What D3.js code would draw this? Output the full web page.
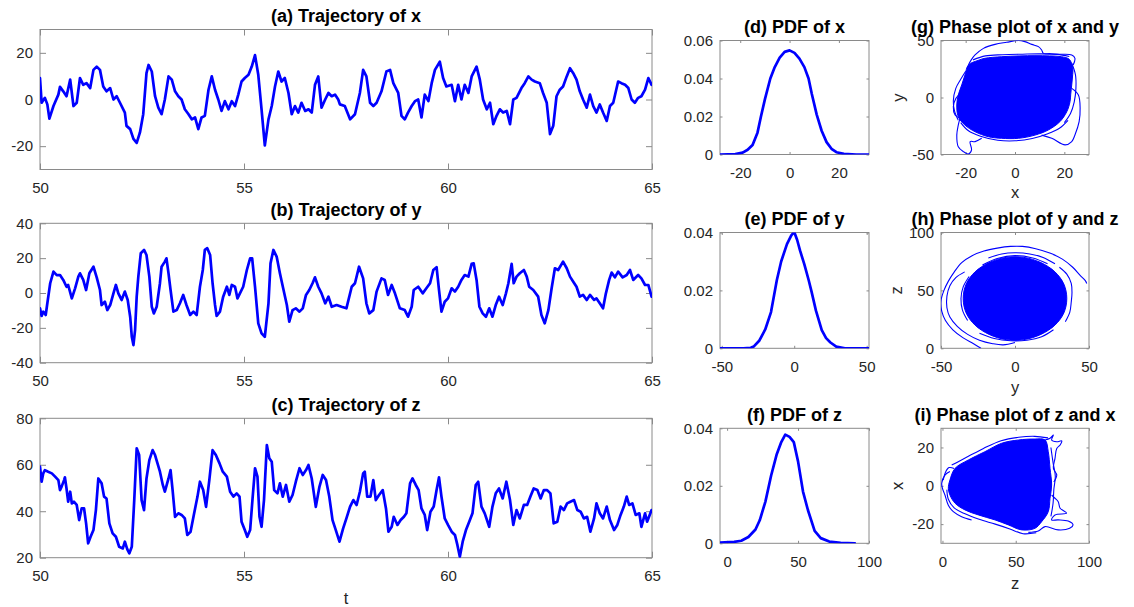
<!DOCTYPE html>
<html><head><meta charset="utf-8">
<script src="https://cdn.jsdelivr.net/npm/d3@7"></script>
<style>
body{margin:0;background:#fff;}
svg text{font-family:"Liberation Sans",Arial,Helvetica,sans-serif;}
</style></head><body>
<script>
// ---------------- DATA ----------------
// (a) trajectory of x : [t, x]
const trajX = [[50.00,9.2],[50.04,-1.4],[50.12,0.7],[50.18,-2.1],[50.23,-8.2],[50.33,-2.8],[50.45,2.1],[50.49,5.4],[50.57,3.5],[50.65,1.4],[50.74,8.5],[50.82,-2.8],[50.90,-1.4],[50.98,9.2],[51.06,6.3],[51.14,7.0],[51.23,4.9],[51.31,12.7],[51.39,14.1],[51.47,12.7],[51.55,5.6],[51.63,3.5],[51.72,4.9],[51.80,0],[51.88,1.4],[51.96,-1.4],[52.08,-5.6],[52.12,-11.3],[52.21,-12.7],[52.29,-16.9],[52.37,-18.6],[52.45,-14.1],[52.53,-6.3],[52.61,11.3],[52.66,14.8],[52.74,12.0],[52.82,1.4],[52.90,-3.5],[52.98,-6.3],[53.06,0],[53.15,9.9],[53.23,8.5],[53.31,3.5],[53.39,1.4],[53.47,0],[53.55,-4.2],[53.64,-6.3],[53.72,-8.5],[53.80,-7.7],[53.88,-12.7],[53.96,-7.7],[54.04,-7.0],[54.13,4.2],[54.21,9.9],[54.29,4.2],[54.37,0],[54.45,-4.9],[54.53,-0.7],[54.62,-4.2],[54.70,-0.7],[54.78,-2.8],[54.86,2.1],[54.94,7.7],[55.02,9.2],[55.11,10.6],[55.19,14.1],[55.27,19.0],[55.35,10.6],[55.43,-4.2],[55.51,-19.7],[55.60,-8.5],[55.68,-2.8],[55.76,5.6],[55.84,12.0],[55.92,7.7],[56.00,9.2],[56.09,2.8],[56.17,-6.3],[56.25,-2.8],[56.33,-5.6],[56.41,-1.4],[56.50,-4.9],[56.58,-4.2],[56.66,-5.6],[56.74,6.3],[56.82,9.9],[56.90,-3.5],[56.99,0],[57.07,2.8],[57.15,1.4],[57.23,2.1],[57.31,0],[57.35,-2.1],[57.47,-2.8],[57.60,-8.5],[57.72,-6.3],[57.84,2.8],[57.92,12.7],[58.00,9.9],[58.09,-1.4],[58.17,-2.8],[58.25,-1.4],[58.37,3.5],[58.49,12.0],[58.58,12.7],[58.66,7.0],[58.78,2.8],[58.86,-7.0],[58.94,-8.5],[59.02,-5.6],[59.11,-2.8],[59.19,-0.7],[59.27,0],[59.35,-7.7],[59.43,2.1],[59.52,-0.7],[59.60,7.0],[59.68,12.7],[59.80,16.2],[59.88,9.2],[59.96,5.6],[60.09,6.3],[60.17,-0.7],[60.25,6.3],[60.33,0],[60.41,6.3],[60.50,2.8],[60.58,9.9],[60.70,14.1],[60.78,8.5],[60.86,0],[60.95,-4.2],[61.03,-1.4],[61.11,-10.6],[61.19,-7.0],[61.27,-4.2],[61.35,-5.6],[61.44,-4.9],[61.52,-10.6],[61.60,0],[61.68,0.7],[61.80,4.9],[61.88,7.0],[61.97,9.9],[62.05,8.5],[62.13,7.7],[62.25,7.0],[62.33,2.8],[62.42,-1.4],[62.50,-14.8],[62.58,-11.3],[62.66,1.4],[62.74,4.2],[62.82,5.6],[62.91,9.9],[62.99,13.4],[63.07,11.3],[63.15,8.5],[63.23,3.5],[63.31,0],[63.40,-3.5],[63.48,2.1],[63.56,-2.8],[63.64,-5.6],[63.72,-2.1],[63.80,-5.6],[63.89,-9.2],[63.97,-2.8],[64.05,-1.4],[64.17,7.7],[64.25,7.0],[64.34,6.3],[64.42,4.9],[64.50,0],[64.58,-1.4],[64.66,0.7],[64.74,1.4],[64.83,4.2],[64.91,9.2],[64.99,6.3]];

// (b) trajectory of y : [t, y]
const trajY = [[50.00,-8.8],[50.04,-13.2],[50.08,-10.7],[50.14,-12.6],[50.18,-5.9],[50.25,5.6],[50.33,12.3],[50.41,10.3],[50.49,10.3],[50.57,7.5],[50.65,3.6],[50.69,4.6],[50.78,-3.1],[50.86,2.7],[50.94,9.4],[50.98,11.3],[51.06,7.5],[51.13,1.7],[51.21,11.3],[51.31,15.1],[51.39,9.0],[51.47,1.7],[51.51,-6.9],[51.59,-5.0],[51.65,-9.8],[51.72,-6.9],[51.80,-0.2],[51.86,4.6],[51.92,-0.2],[52.00,-4.0],[52.08,0.8],[52.15,-4.0],[52.21,-13.6],[52.25,-25.1],[52.29,-29.9],[52.33,-21.3],[52.37,-2.1],[52.41,9.4],[52.47,22.8],[52.55,24.7],[52.61,21.8],[52.68,9.4],[52.74,-7.9],[52.79,-11.7],[52.86,-7.9],[52.94,5.6],[52.98,15.1],[53.06,18.0],[53.10,19.9],[53.15,11.3],[53.20,1.7],[53.27,-10.7],[53.35,-9.8],[53.43,-5.9],[53.51,-1.1],[53.59,-6.9],[53.68,-12.6],[53.76,-10.7],[53.84,-12.6],[53.92,3.6],[53.99,13.2],[54.04,24.7],[54.10,25.7],[54.17,21.8],[54.23,5.6],[54.29,-6.9],[54.33,-13.2],[54.41,-10.7],[54.49,-2.1],[54.58,3.6],[54.64,-1.1],[54.70,4.6],[54.78,3.6],[54.84,-3.1],[54.90,-0.2],[54.98,3.6],[55.07,13.2],[55.15,19.9],[55.20,19.9],[55.27,3.6],[55.35,-17.4],[55.43,-23.2],[55.51,-25.1],[55.60,-5.9],[55.65,17.0],[55.72,24.7],[55.80,20.9],[55.88,11.3],[55.96,2.7],[56.05,-6.9],[56.11,-16.5],[56.19,-9.8],[56.27,-8.8],[56.36,-10.7],[56.44,-8.8],[56.52,-1.1],[56.60,1.7],[56.68,5.6],[56.74,9.0],[56.82,3.6],[56.90,-0.2],[56.99,-5.9],[57.07,-2.1],[57.15,-7.9],[57.27,-6.9],[57.39,-7.9],[57.51,-8.8],[57.64,3.6],[57.72,5.6],[57.82,15.1],[57.92,8.4],[58.00,-5.9],[58.07,-11.7],[58.17,-9.8],[58.25,0.8],[58.37,8.4],[58.45,7.5],[58.53,-1.1],[58.62,4.6],[58.70,-0.2],[58.82,-8.8],[58.94,-9.8],[59.02,-13.6],[59.11,-7.9],[59.16,1.7],[59.27,3.6],[59.38,-0.2],[59.47,2.7],[59.56,5.6],[59.64,13.2],[59.72,14.8],[59.78,1.7],[59.84,-10.7],[59.92,-5.0],[60.00,-3.1],[60.09,2.7],[60.17,0.8],[60.25,3.6],[60.33,7.5],[60.41,10.3],[60.50,9.4],[60.58,16.7],[60.63,17.0],[60.70,7.5],[60.77,-7.9],[60.85,-11.7],[60.93,-13.6],[61.01,-8.8],[61.09,-13.6],[61.17,-6.9],[61.25,-2.1],[61.34,-6.9],[61.42,-0.2],[61.48,5.6],[61.56,16.7],[61.61,5.6],[61.68,9.4],[61.76,11.3],[61.86,13.2],[61.93,9.4],[61.99,3.6],[62.09,1.7],[62.21,-2.1],[62.29,-12.6],[62.37,-17.4],[62.46,-9.8],[62.54,2.7],[62.62,14.2],[62.70,13.2],[62.82,18.0],[62.91,14.2],[62.99,9.4],[63.07,6.5],[63.15,3.6],[63.23,-2.1],[63.31,-1.1],[63.40,-4.0],[63.48,-1.1],[63.58,-4.0],[63.64,-3.1],[63.72,-5.9],[63.80,-8.8],[63.87,-0.2],[63.95,7.5],[64.01,11.7],[64.09,9.0],[64.17,12.3],[64.28,9.0],[64.38,10.3],[64.46,13.2],[64.54,7.5],[64.66,10.3],[64.74,8.4],[64.83,4.6],[64.91,4.6],[64.99,-2.1]];

// (c) trajectory of z : [t, z]
const trajZ = [[50.00,59.2],[50.04,52.7],[50.08,56.3],[50.12,57.7],[50.20,57.0],[50.29,56.3],[50.37,54.9],[50.45,53.4],[50.49,49.1],[50.53,50.6],[50.59,53.4],[50.61,54.6],[50.65,49.8],[50.69,44.1],[50.74,48.4],[50.78,43.4],[50.83,44.1],[50.90,42.7],[50.96,36.2],[51.02,41.2],[51.08,41.2],[51.13,34.8],[51.18,26.2],[51.24,29.0],[51.31,31.9],[51.37,40.5],[51.43,54.1],[51.51,52.0],[51.57,46.3],[51.63,45.5],[51.70,34.8],[51.78,30.5],[51.86,29.0],[51.94,24.7],[52.03,24.0],[52.08,26.9],[52.14,23.6],[52.19,21.9],[52.25,24.7],[52.31,44.8],[52.37,67.1],[52.43,64.2],[52.49,44.8],[52.55,40.5],[52.61,54.1],[52.68,62.0],[52.76,66.3],[52.82,64.2],[52.88,60.6],[52.94,57.0],[53.01,51.3],[53.06,48.4],[53.15,54.1],[53.20,57.7],[53.25,49.1],[53.31,37.6],[53.39,39.1],[53.47,38.4],[53.55,36.9],[53.61,29.8],[53.69,31.2],[53.77,38.4],[53.86,46.3],[53.92,52.7],[54.00,49.1],[54.07,41.9],[54.15,53.4],[54.23,66.3],[54.31,64.2],[54.40,60.6],[54.48,57.0],[54.58,54.9],[54.66,48.4],[54.74,46.3],[54.82,47.7],[54.89,46.3],[54.94,35.5],[55.02,31.9],[55.08,29.0],[55.15,31.9],[55.21,45.5],[55.27,58.5],[55.33,54.9],[55.38,37.6],[55.43,33.3],[55.49,44.8],[55.56,68.5],[55.62,62.8],[55.68,61.3],[55.74,49.1],[55.82,47.7],[55.88,52.0],[55.95,46.3],[56.03,51.3],[56.11,44.1],[56.19,47.0],[56.27,52.7],[56.36,58.5],[56.44,55.6],[56.52,57.7],[56.58,59.9],[56.66,54.1],[56.76,41.9],[56.85,50.6],[56.93,55.6],[57.01,53.4],[57.09,46.3],[57.17,36.2],[57.25,31.9],[57.34,26.9],[57.43,32.6],[57.51,36.9],[57.60,42.0],[57.68,44.8],[57.76,42.7],[57.84,48.4],[57.92,56.3],[57.96,57.0],[58.02,46.3],[58.10,46.3],[58.17,53.4],[58.23,44.8],[58.31,47.0],[58.40,49.1],[58.48,41.2],[58.54,31.2],[58.62,33.3],[58.67,37.6],[58.76,34.1],[58.84,36.2],[58.92,37.6],[58.98,39.1],[59.07,52.0],[59.13,54.1],[59.21,51.3],[59.28,49.1],[59.35,41.2],[59.43,38.4],[59.49,31.9],[59.57,39.8],[59.65,42.0],[59.72,49.1],[59.78,54.6],[59.84,46.3],[59.92,36.9],[60.00,34.1],[60.09,31.2],[60.17,29.8],[60.23,25.5],[60.29,20.4],[60.36,26.9],[60.44,31.9],[60.52,35.5],[60.60,39.1],[60.68,51.3],[60.74,52.7],[60.82,42.0],[60.90,39.1],[61.01,33.3],[61.09,42.0],[61.17,47.7],[61.25,49.8],[61.34,45.5],[61.43,52.7],[61.52,44.8],[61.60,34.1],[61.68,40.5],[61.76,36.9],[61.86,42.7],[61.94,42.7],[62.02,46.3],[62.10,49.8],[62.19,49.1],[62.27,45.5],[62.35,49.1],[62.43,49.1],[62.51,47.7],[62.59,34.8],[62.68,35.5],[62.76,42.0],[62.84,40.5],[62.92,43.4],[63.00,44.1],[63.09,44.8],[63.17,40.5],[63.25,39.8],[63.33,36.9],[63.41,37.6],[63.49,31.2],[63.58,36.9],[63.64,43.4],[63.72,39.1],[63.80,36.9],[63.89,42.0],[63.97,36.2],[64.07,31.9],[64.15,34.1],[64.23,38.4],[64.31,42.0],[64.38,46.3],[64.44,42.7],[64.52,43.4],[64.60,38.4],[64.69,39.1],[64.74,33.3],[64.83,39.1],[64.88,35.5],[64.99,40.5]];

// (d)(e)(f) probability density functions : [value, density]
const pdfX = [[-28.2,0],[-22,0.0002],[-19,0.001],[-17,0.0025],[-15,0.005],[-13,0.0115],[-11.6,0.02],[-10,0.029],[-7.8,0.04],[-6,0.046],[-4,0.051],[-2,0.054],[0,0.0548],[2,0.0535],[4,0.0505],[6,0.046],[7.7,0.04],[9,0.032],[11,0.021],[13,0.0125],[15,0.0065],[17,0.003],[19,0.0012],[22,0.0003],[27,0],[32.2,0]];
const pdfY = [[-51.2,0],[-35,0],[-30,0.0002],[-28,0.0006],[-24,0.0027],[-20,0.0065],[-16,0.0125],[-12,0.0235],[-9,0.030],[-5,0.036],[-2,0.039],[0,0.0402],[2,0.0375],[4,0.0338],[7,0.029],[10,0.0235],[12,0.0195],[15,0.013],[19,0.0063],[22,0.0035],[25,0.002],[29,0.0006],[35,0],[51.6,0]];
const pdfZ = [[-5,0.0002],[5,0.0005],[10,0.0009],[15,0.0022],[20,0.0048],[23,0.008],[27,0.0145],[31,0.0235],[35,0.031],[38,0.035],[41,0.0378],[44,0.037],[47,0.0352],[50,0.0285],[53.5,0.018],[57,0.0115],[61.7,0.0043],[66,0.0018],[72,0.0006],[80,0.0002],[90,0]];

// (g) phase plot x–y : dense core outline, edge strands and outer loops
const phaseXYcore = [[-18.9,28.5],[-15,32.5],[-12.2,34.4],[-5.4,35.8],[2,36.5],[8.1,36.7],[14,36.5],[18.9,35.8],[22,33.5],[23.4,26],[23.3,18],[23,11],[22.6,3],[22.3,-3.7],[21,-12.4],[18.2,-21.2],[13.5,-28.5],[8.1,-33],[1.4,-35.8],[-5.4,-35.8],[-10.8,-34.4],[-16.2,-30],[-20.3,-24.2],[-23,-16.8],[-23.6,-6.6],[-23,2.2],[-21.6,11],[-20.3,19.7]];
const phaseXYloops = [
  [[-18.9,28.5],[-17.8,32.8],[-16.2,37.3],[-12.8,43.1],[-8.1,46.6],[-3.4,48.4],[1.4,50],[4,49],[6.8,46.6],[9.5,44.6],[10.8,41.7],[11.5,38.7],[14,38.5],[18.9,38],[23,37.3],[24.3,34.4],[23.6,28.5]],
  [[23,8],[25.7,2.2],[26.4,-9.5],[26,-21.2],[24.3,-32.9],[23,-38.7],[20.3,-41.6],[14.9,-35.8],[10.8,-33]],
  [[-22.3,-18.3],[-23,-24.2],[-23.6,-33],[-23,-43.2],[-20.9,-47.5],[-18.9,-49.5],[-17.6,-46],[-18.2,-38.7],[-16.2,-38.7],[-13.5,-35.8]],
  [[-21.6,5],[-24,-1],[-25,-8],[-24.3,-15.4],[-22.3,-18.3]],
  [[-17,33],[-12,36.5],[-5,37.5],[3,38],[10,38.3],[17,37.8],[22,36]],
  [[-22,-22],[-19,-29],[-14,-34],[-7,-37.5],[0,-38],[7,-36],[13,-32],[18,-27],[21.5,-20]],
  [[-20,23],[-22,16],[-24,8],[-25,-3],[-24.5,-12],[-23,-20]],
  [[23,30],[24.5,20],[24.7,8],[24,-4],[22.5,-14],[20,-22]]
];
// (h) phase plot y–z
const phaseYZcore = [[35,43],[33,55.5],[27,66],[17.5,74],[6,78.5],[-6,78.5],[-17.5,74],[-27,66],[-33,55.5],[-35,43],[-33,30.5],[-27,20],[-17.5,12],[-6,7.5],[6,7.5],[17.5,12],[27,20],[33,30.5]];
const phaseYZloops = [
  [[48.5,56],[47.5,58.5],[44,63],[39,70],[32,77],[24,82],[14,86],[5,88],[-3,88],[-12,86.5],[-21,84],[-29,80],[-36,74],[-41,66],[-45,58],[-48,50],[-50,41],[-49.5,32],[-47,24],[-42,16],[-35,9],[-28,4],[-23,0]],
  [[-34,66],[-40,61],[-44,54],[-46,45],[-46,35],[-44,27],[-39,19],[-32,12],[-24,7],[-15,4],[-8,3],[0,5]],
  [[30,70],[35,64],[38,56],[38.5,48],[38,40],[37,31],[34,23]],
  [[-18,78],[-9,81.5],[0,82.5],[10,81.5],[19,78.5],[27,73]],
  [[-31,62],[-35,53],[-36.5,43],[-35.5,33],[-32,24]],
  [[-22,72],[-12,77.5],[0,80],[12,78],[22,73]],
  [[-24,13],[-14,8.5],[-3,6.5],[8,7],[18,10],[26,16]]
];
// (i) phase plot z–x
const phaseZXcore = [[4,-1.3],[5.1,3],[8.6,9.1],[17.7,13.5],[29,17.8],[40.4,22.2],[51.8,23.9],[63.1,24.4],[70,23.9],[72.2,17.8],[73.4,9.1],[74.5,0.4],[73.4,-6.5],[72.2,-13.5],[67.7,-18.7],[63.1,-22.2],[54,-23],[45,-20.4],[35.9,-17.8],[24.5,-15.2],[15.4,-12.6],[8.6,-9.1],[5.1,-4.8]];
const phaseZXloops = [
  [[5.1,7.4],[1.7,5.6],[-0.5,1.3],[0,-1.3],[1.7,-4.8],[4,-10.1],[7.4,-13.5],[13.1,-16.1],[19.9,-17.8]],
  [[8,9],[4.5,9.5],[2,7],[0.5,3]],
  [[70,23.9],[73.4,24.8],[75.7,26.5],[74.5,23.9],[78,23],[81.4,23.4],[80.3,21.3],[78,19.5],[76.8,14.3],[75.7,9.1],[78,5.6],[76,2]],
  [[74.5,-4.8],[76.8,-6.5],[79,-8.3],[80.3,-11.7],[84.7,-14.3],[76.8,-15.2],[74.5,-17.8],[79,-17.8],[85.8,-18.4],[89.1,-20.4],[86.8,-22.2],[79,-23],[70,-21.3],[65.4,-23.6],[58.6,-24.3]],
  [[6.3,10.8],[10.8,12.6],[18,15.5],[28,19.5],[40,23.5],[52,25.3],[63,25.8],[72,25]],
  [[3,-2],[4,-7],[8,-11.5],[15,-14.5],[25,-17.5],[36,-20],[46,-22.5],[55,-25],[64,-24.5]],
  [[74,20],[75.5,12],[77,5],[76,-2],[75.5,-9],[74,-16]]
];

// tick values
const tTicks = [50,55,60,65];
const xTrajTicks = [-20,0,20], yTrajTicks = [-40,-20,0,20,40], zTrajTicks = [20,40,60,80];
const pdfXTicks = [-20,0,20], pdfYTicks = [-50,0,50], pdfZTicks = [0,50,100];
const pdfXDens = [0,0.02,0.04,0.06], pdfYDens = [0,0.02,0.04], pdfZDens = [0,0.02,0.04];

// ---------------- DRAWING ----------------
const BLUE = '#0000ff', AX = '#8a8a8a', TXT = '#262626';
const svg = d3.select('body').append('svg').attr('width',1134).attr('height',607);

function makeAxes(o){
  const x = d3.scaleLinear().domain(o.xd).range([o.l,o.r]);
  const y = d3.scaleLinear().domain(o.yd).range([o.b,o.t]);
  const id = 'clip-'+o.id;
  svg.append('clipPath').attr('id',id).append('rect')
    .attr('x',o.l).attr('y',o.t).attr('width',o.r-o.l).attr('height',o.b-o.t);
  const fmt = d => String(d);
  const tl = o.tl;
  const style = g => {
    g.select('.domain').remove();
    g.selectAll('line').attr('stroke',AX).attr('stroke-width',1);
    g.selectAll('text').attr('fill',TXT).style('font-size','15px');
  };
  svg.append('g').attr('transform',`translate(0,${o.b})`)
    .call(d3.axisBottom(x).tickValues(o.xt).tickFormat(fmt).tickSizeInner(-tl).tickSizeOuter(0).tickPadding(13)).call(style);
  svg.append('g').attr('transform',`translate(0,${o.t})`)
    .call(d3.axisTop(x).tickValues(o.xt).tickFormat('').tickSizeInner(-tl).tickSizeOuter(0)).call(style);
  svg.append('g').attr('transform',`translate(${o.l},0)`)
    .call(d3.axisLeft(y).tickValues(o.yt).tickFormat(fmt).tickSizeInner(-tl).tickSizeOuter(0).tickPadding(7)).call(style);
  svg.append('g').attr('transform',`translate(${o.r},0)`)
    .call(d3.axisRight(y).tickValues(o.yt).tickFormat('').tickSizeInner(-tl).tickSizeOuter(0)).call(style);
  svg.append('rect').attr('x',o.l).attr('y',o.t).attr('width',o.r-o.l).attr('height',o.b-o.t)
    .attr('fill','none').attr('stroke',AX).attr('stroke-width',1);
  svg.append('text').attr('x',(o.l+o.r)/2).attr('y',o.t-7.2).attr('text-anchor','middle')
    .style('font-size','18px').style('font-weight','bold').attr('fill','#000').text(o.title);
  if(o.xlabel){
    svg.append('text').attr('x',(o.l+o.r)/2).attr('y',o.xlabelY).attr('text-anchor','middle')
      .style('font-size','16.5px').attr('fill',TXT).text(o.xlabel);
  }
  if(o.ylabel){
    svg.append('text').attr('transform',`translate(${o.ylabelX},${(o.t+o.b)/2}) rotate(-90)`).attr('text-anchor','middle')
      .style('font-size','16.5px').attr('fill',TXT).text(o.ylabel);
  }
  const plot = svg.append('g').attr('clip-path',`url(#${id})`);
  return {x,y,plot};
}

function drawLine(ax, data, w){
  const line = d3.line().x(d=>ax.x(d[0])).y(d=>ax.y(d[1]));
  ax.plot.append('path').datum(data).attr('d',line).attr('fill','none')
    .attr('stroke',BLUE).attr('stroke-width',w).attr('stroke-linejoin','round').attr('stroke-linecap','round');
}
function drawPhase(ax, core, loops){
  const area = d3.line().x(d=>ax.x(d[0])).y(d=>ax.y(d[1])).curve(d3.curveCatmullRomClosed);
  ax.plot.append('path').datum(core).attr('d',area).attr('fill',BLUE).attr('stroke',BLUE).attr('stroke-width',1);
  const ln = d3.line().x(d=>ax.x(d[0])).y(d=>ax.y(d[1])).curve(d3.curveCatmullRom);
  loops.forEach(l=>{
    ax.plot.append('path').datum(l).attr('d',ln).attr('fill','none').attr('stroke',BLUE).attr('stroke-width',1.1);
  });
}

// trajectories
const L=40, R=652;
const axA = makeAxes({id:'a',l:L,r:R,t:29.5,b:169.5,xd:[50,65],yd:[-30,30],xt:tTicks,yt:xTrajTicks,tl:6,title:'(a) Trajectory of x'});
drawLine(axA, trajX, 2.7);
const axB = makeAxes({id:'b',l:L,r:R,t:223.3,b:362.7,xd:[50,65],yd:[-40,40],xt:tTicks,yt:yTrajTicks,tl:6,title:'(b) Trajectory of y'});
drawLine(axB, trajY, 2.7);
const axC = makeAxes({id:'c',l:L,r:R,t:418.3,b:557.7,xd:[50,65],yd:[20,80],xt:tTicks,yt:zTrajTicks,tl:6,title:'(c) Trajectory of z',xlabel:'t',xlabelY:603.8});
drawLine(axC, trajZ, 2.7);

// pdfs
const PL=720, PR=869;
const axD = makeAxes({id:'d',l:PL,r:PR,t:40.5,b:154.5,xd:[-28.2,32.2],yd:[0,0.06],xt:pdfXTicks,yt:pdfXDens,tl:2.5,title:'(d) PDF of x'});
drawLine(axD, pdfX, 2.7);
const axE = makeAxes({id:'e',l:PL,r:PR,t:232.5,b:348.3,xd:[-51.2,51.6],yd:[0,0.04],xt:pdfYTicks,yt:pdfYDens,tl:2.5,title:'(e) PDF of y'});
drawLine(axE, pdfY, 2.7);
const axF = makeAxes({id:'f',l:PL,r:PR,t:428.3,b:543.3,xd:[-5,100],yd:[0,0.04],xt:pdfZTicks,yt:pdfZDens,tl:2.5,title:'(f) PDF of z'});
drawLine(axF, pdfZ, 2.7);

// phase plots
const QL=941, QR=1089;
const axG = makeAxes({id:'g',l:QL,r:QR,t:40.5,b:154.5,xd:[-30,30],yd:[-50,50],xt:[-20,0,20],yt:[-50,0,50],tl:2.5,title:'(g) Phase plot of x and y',xlabel:'x',xlabelY:197.6,ylabel:'y',ylabelX:904});
drawPhase(axG, phaseXYcore, phaseXYloops);
const axH = makeAxes({id:'h',l:QL,r:QR,t:232.5,b:348.3,xd:[-50,50],yd:[0,100],xt:[-50,0,50],yt:[0,50,100],tl:2.5,title:'(h) Phase plot of y and z',xlabel:'y',xlabelY:392.6,ylabel:'z',ylabelX:902});
drawPhase(axH, phaseYZcore, phaseYZloops);
const axI = makeAxes({id:'i',l:QL,r:QR,t:428.3,b:543.3,xd:[-1,100],yd:[-30,30],xt:[0,50,100],yt:[-20,0,20],tl:2.5,title:'(i) Phase plot of z and x',xlabel:'z',xlabelY:589.3,ylabel:'x',ylabelX:903});
drawPhase(axI, phaseZXcore, phaseZXloops);
</script>
</body></html>
